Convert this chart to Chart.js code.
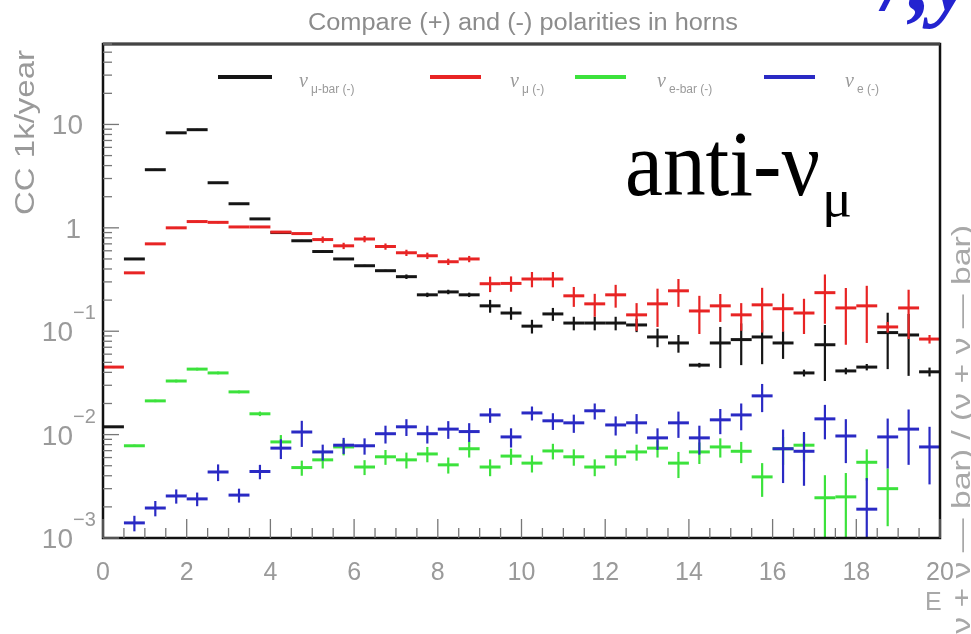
<!DOCTYPE html>
<html><head><meta charset="utf-8">
<script src="https://cdn.jsdelivr.net/npm/chart.js@4.4.1/dist/chart.umd.min.js"></script>
<style>html,body{margin:0;padding:0;background:#fff;}canvas{display:block;}</style>
</head><body>
<canvas id="c" width="971" height="634"></canvas>
<script>
// ---- data (bin centres, GeV; 0.5 GeV bins) ----
const binWidth = 0.5;
const energy = [0.25,0.75,1.25,1.75,2.25,2.75,3.25,3.75,4.25,4.75,5.25,5.75,6.25,6.75,7.25,7.75,8.25,8.75,9.25,9.75,
  10.25,10.75,11.25,11.75,12.25,12.75,13.25,13.75,14.25,14.75,15.25,15.75,16.25,16.75,17.25,17.75,18.25,18.75,19.25,19.75];

const numubarVals = [0.0119,0.50,3.65,8.3,8.9,2.73,1.71,1.22,0.90,0.75,0.59,0.50,0.43,0.385,0.337,0.225,0.24,0.225,0.176,0.15,
  0.112,0.147,0.12,0.12,0.12,0.115,0.088,0.077,0.047,0.077,0.083,0.088,0.077,0.0395,0.074,0.0413,0.045,0.097,0.092,0.0405];
const numubarErr = [0.0002,0.01,0.07,0.15,0.16,0.05,0.03,0.025,0.018,0.015,0.012,0.01,0.009,0.008,0.017,0.011,0.012,0.011,0.025,0.021,
  0.017,0.021,0.018,0.018,0.018,0.017,0.018,0.015,0.0024,0.033,0.036,0.040,0.023,0.003,0.041,0.003,0.0032,0.054,0.055,0.004];

const numuVals = [0.045,0.367,0.70,1.0,1.15,1.13,1.02,1.02,0.91,0.88,0.77,0.67,0.78,0.66,0.574,0.537,0.47,0.50,0.288,0.29,
  0.32,0.32,0.22,0.184,0.225,0.144,0.184,0.246,0.157,0.176,0.144,0.18,0.165,0.15,0.236,0.168,0.176,0.11,0.168,0.084];
const numuErr = [0.001,0.007,0.014,0.02,0.023,0.023,0.02,0.02,0.018,0.018,0.054,0.047,0.055,0.046,0.04,0.038,0.033,0.035,0.049,0.049,
  0.054,0.054,0.048,0.046,0.056,0.043,0.074,0.074,0.063,0.053,0.043,0.083,0.066,0.056,0.118,0.094,0.099,0.013,0.084,0.008];

const nuebarVals = [null,0.0078,0.0212,0.033,0.043,0.0395,0.0259,0.0159,0.0085,0.0048,0.0057,0.0076,0.00486,0.0061,0.0057,0.0065,0.0051,0.0073,0.00486,0.0062,
  0.0053,0.00695,0.0061,0.00486,0.0061,0.0068,0.0074,0.0053,0.0068,0.0076,0.0069,0.0039,0.0073,0.0079,0.00245,0.0025,0.0054,0.003,null,null];
const nuebarErr = [0,0.0002,0.0006,0.001,0.0013,0.0012,0.0008,0.0008,0.0014,0.0008,0.001,0.0013,0.0008,0.001,0.001,0.0011,0.0009,0.0013,0.0009,0.0011,
  0.001,0.0012,0.0011,0.0009,0.0011,0.0012,0.0014,0.0015,0.0016,0.0016,0.0016,0.0014,0.0022,0.0024,0.0016,0.00175,0.0018,0.0017,0,0];

const nueVals = [null,0.0014,0.00195,0.00255,0.00239,0.00435,0.0026,0.0044,0.0074,0.0106,0.0068,0.0079,0.0078,0.0102,0.0119,0.0102,0.0113,0.0107,0.0155,0.0095,
  0.0162,0.0136,0.013,0.017,0.0124,0.013,0.0093,0.013,0.0093,0.0139,0.0155,0.0237,0.0073,0.0069,0.0142,0.0097,0.0019,0.0095,0.0113,0.0076];
const nueErr = [0,0.00024,0.00033,0.0004,0.00036,0.0008,0.0004,0.0007,0.0016,0.003,0.0012,0.0014,0.0014,0.002,0.0022,0.002,0.0022,0.0022,0.0025,0.002,
  0.0025,0.0025,0.0026,0.003,0.0026,0.0028,0.0022,0.0037,0.0029,0.0038,0.0045,0.0072,0.0039,0.0037,0.0052,0.0044,0.0019,0.0048,0.0062,0.0043];

const seriesNames = ['μ-bar (-)','μ (-)','e-bar (-)','e (-)'];
const seriesColors = ['#151515','#e82424','#3ce23c','#2a2ac4'];
const xTickLabels = ['0','2','4','6','8','10','12','14','16','18','20'];
const yTickValues = [0.001,0.01,0.1,1,10];
const yTickBase = ['10','10','10','1','10'];
const yTickExp = ['−3','−2','−1','',''];

const allVals = [numubarVals, numuVals, nuebarVals, nueVals];
const allErrs = [numubarErr, numuErr, nuebarErr, nueErr];

const datasets = allVals.map((vals, k) => ({
  label: seriesNames[k],
  borderColor: seriesColors[k],
  backgroundColor: seriesColors[k],
  pointRadius: 0,
  showLine: false,
  data: energy.map((x, i) => vals[i] == null ? null : ({x: x, y: vals[i], e: allErrs[k][i]})).filter(d => d)
}));

const GRAY = '#9a9a9a';

function fitText(ctx, text, x, y, width, align) {
  const w = ctx.measureText(text).width;
  const s = width / w;
  ctx.save();
  ctx.translate(x, y);
  ctx.scale(s, 1);
  ctx.textAlign = align || 'left';
  ctx.fillText(text, 0, 0);
  ctx.restore();
}

const errorBars = {
  id: 'errorBars',
  afterDatasetsDraw(chart) {
    const {ctx, chartArea: a, scales: {x, y}} = chart;
    ctx.save();
    ctx.beginPath(); ctx.rect(a.left, a.top, a.right - a.left, a.bottom - a.top); ctx.clip();
    chart.data.datasets.forEach(ds => {
      ctx.strokeStyle = ds.borderColor;
      ds.data.forEach(d => {
        const x0 = x.getPixelForValue(d.x - binWidth / 2), x1 = x.getPixelForValue(d.x + binWidth / 2);
        const xc = x.getPixelForValue(d.x);
        const yc = y.getPixelForValue(d.y);
        const yt = y.getPixelForValue(d.y + d.e);
        const lo = d.y - d.e;
        const yb = lo > 0 ? y.getPixelForValue(lo) : a.bottom + 5;
        ctx.lineWidth = 3;
        ctx.beginPath(); ctx.moveTo(x0, yc); ctx.lineTo(x1, yc); ctx.stroke();
        ctx.lineWidth = 2.2;
        ctx.beginPath(); ctx.moveTo(xc, yt); ctx.lineTo(xc, yb); ctx.stroke();
      });
    });
    ctx.restore();
  }
};

const decor = {
  id: 'decor',
  afterDraw(chart) {
    const {ctx, chartArea: a, scales: {x, y}} = chart;
    ctx.save();
    // frame
    ctx.strokeStyle = '#111';
    ctx.lineWidth = 2.5;
    ctx.strokeRect(a.left, a.top, a.right - a.left, a.bottom - a.top);
    ctx.strokeStyle = '#444';
    ctx.lineWidth = 3;
    ctx.beginPath(); ctx.moveTo(a.left, a.top); ctx.lineTo(a.right, a.top); ctx.stroke();
    // x ticks (inside)
    ctx.strokeStyle = '#777';
    ctx.lineWidth = 1.3;
    for (let v = 0; v <= 20.001; v += 0.5) {
      const px = x.getPixelForValue(v);
      const major = Math.abs(v / 2 - Math.round(v / 2)) < 1e-6;
      ctx.beginPath(); ctx.moveTo(px, a.bottom); ctx.lineTo(px, a.bottom - (major ? 19 : 10)); ctx.stroke();
    }
    // y ticks (inside)
    for (let p = -3; p <= 1; p++) {
      for (let m = 1; m <= 9; m++) {
        const v = m * Math.pow(10, p);
        if (v > y.max * 1.0001) continue;
        const py = y.getPixelForValue(v);
        const len = m === 1 ? 16 : 9;
        ctx.beginPath(); ctx.moveTo(a.left, py); ctx.lineTo(a.left + len, py); ctx.stroke();
      }
    }
    // y tick labels
    ctx.fillStyle = GRAY;
    yTickValues.forEach((v, i) => {
      const py = y.getPixelForValue(v);
      ctx.font = '28px "Liberation Sans", Arial, sans-serif';
      ctx.textBaseline = 'alphabetic';
      if (yTickExp[i]) {
        ctx.textAlign = 'right';
        ctx.fillText(yTickBase[i], 73, py + 10);
        ctx.font = '20px "Liberation Sans", Arial, sans-serif';
        ctx.textAlign = 'left';
        ctx.fillText(yTickExp[i], 73, py - 12);
      } else {
        ctx.textAlign = 'right';
        ctx.fillText(yTickBase[i], yTickBase[i] === '1' ? 81 : 83, py + 10);
      }
    });
    // title
    ctx.fillStyle = '#8c8c8c';
    ctx.font = '23px "Liberation Sans", Arial, sans-serif';
    ctx.textBaseline = 'alphabetic';
    fitText(ctx, 'Compare (+) and (-) polarities in horns', 308, 30, 430, 'left');
    // y axis title
    ctx.save();
    ctx.translate(34, 50);
    ctx.rotate(-Math.PI / 2);
    ctx.font = '27px "Liberation Sans", Arial, sans-serif';
    ctx.fillStyle = GRAY;
    fitText(ctx, 'CC 1k/year', 0, 0, 165, 'right');
    ctx.restore();
    // right-hand rotated title (cut off by the page edge)
    ctx.save();
    ctx.translate(970, 225);
    ctx.rotate(-Math.PI / 2);
    ctx.font = '25px "Liberation Sans", Arial, sans-serif';
    ctx.fillStyle = '#a8a8a8';
    fitText(ctx, '(ν + ν — bar) / (ν + ν — bar)', 0, 0, 420, 'right');
    ctx.restore();
    // x axis title
    ctx.font = '25px "Liberation Sans", Arial, sans-serif';
    ctx.fillStyle = '#a8a8a8';
    ctx.textAlign = 'left';
    ctx.fillText('E', 925, 610);
    // legend
    const lx = [[218, 272, 299], [430, 481, 510], [575, 626, 657], [764, 815, 845]];
    chart.data.datasets.forEach((ds, k) => {
      ctx.strokeStyle = ds.borderColor;
      ctx.lineWidth = 4;
      ctx.beginPath(); ctx.moveTo(lx[k][0], 77); ctx.lineTo(lx[k][1], 77); ctx.stroke();
      ctx.fillStyle = GRAY;
      ctx.textAlign = 'left';
      ctx.font = 'italic 20px "Liberation Serif", serif';
      ctx.fillText('ν', lx[k][2], 87);
      ctx.font = '12px "Liberation Sans", Arial, sans-serif';
      ctx.fillText(ds.label, lx[k][2] + 12, 93);
    });
    // big annotation
    ctx.fillStyle = '#000';
    ctx.font = '94px "Liberation Serif", "Times New Roman", serif';
    fitText(ctx, 'anti-ν', 625, 195, 195, 'left');
    ctx.font = '52px "Liberation Serif", "Times New Roman", serif';
    fitText(ctx, 'μ', 822, 216, 30, 'left');
    // cropped blue slide heading at the top-right
    ctx.fillStyle = '#2323d0';
    ctx.font = 'italic bold 90px "Liberation Serif", serif';
    ctx.fillText('/,y', 884, 10);
    ctx.restore();
  }
};

new Chart(document.getElementById('c').getContext('2d'), {
  type: 'scatter',
  data: {datasets: datasets},
  options: {
    responsive: false,
    animation: false,
    devicePixelRatio: 1,
    layout: {padding: {left: 0, top: 44, right: 31, bottom: 0}},
    plugins: {legend: {display: false}, tooltip: {enabled: false}, title: {display: false}},
    scales: {
      x: {
        type: 'linear', min: 0, max: 20,
        grid: {display: false}, border: {display: false},
        ticks: {stepSize: 2, autoSkip: false, maxRotation: 0, padding: 12, color: GRAY,
          font: {family: '"Liberation Sans", Arial, sans-serif', size: 25},
          callback: (v) => { const i = Math.round(v / 2); return Math.abs(v / 2 - i) < 1e-6 ? xTickLabels[i] : ''; }},
        afterFit(s) { s.height = 96; }
      },
      y: {
        type: 'logarithmic', min: 0.001, max: 60,
        grid: {display: false}, border: {display: false},
        ticks: {display: false},
        afterFit(s) { s.width = 103; }
      }
    }
  },
  plugins: [errorBars, decor]
});
</script>
</body></html>
